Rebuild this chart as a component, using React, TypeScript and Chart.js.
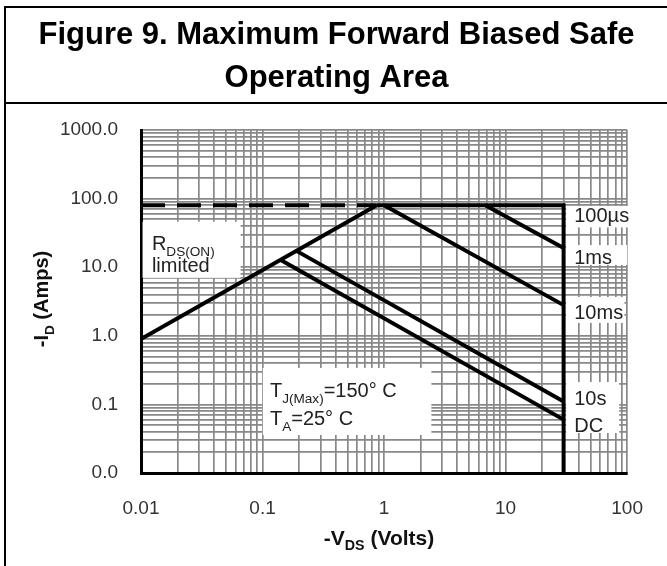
import React, { useEffect, useRef } from "react";
import { Chart, registerables } from "chart.js";

Chart.register(...registerables);

// ---- tick labels ----
const xTickValues = [0.01, 0.1, 1, 10, 100];
const xTickLabels = ["0.01", "0.1", "1", "10", "100"];
const yTickValues = [0.01, 0.1, 1, 10, 100, 1000];
const yTickLabels = ["0.0", "0.1", "1.0", "10.0", "100.0", "1000.0"];

// ---- curves (-VDS volts, -ID amps) ----
const currentLimitV = [0.01, 0.87];
const currentLimitI = [80, 80];
const rdsLimitV = [0.01, 0.87];
const rdsLimitI = [0.9, 80];
const pulse100usV = [0.87, 30, 30];
const pulse100usI = [80, 80, 0.01];
const pulse1msV = [6.8, 30];
const pulse1msI = [80, 19];
const pulse10msV = [1.0, 30];
const pulse10msI = [80, 2.8];
const pulse10sV = [0.19, 30];
const pulse10sI = [17.3, 0.11];
const dcV = [0.14, 30];
const dcI = [12.8, 0.06];

const curveLabels = ["100µs", "1ms", "10ms", "10s", "DC"];

const TITLE = ["Figure 9. Maximum Forward Biased Safe", "Operating Area"];
const FONT = '"Liberation Sans", Arial, Helvetica, sans-serif';

const pts = (xs: number[], ys: number[]) => xs.map((v, i) => ({ x: v, y: ys[i] }));

// annotation anchors in data coordinates
const curveLabelAnchors = [
  { x: 36.7, y: 57.7 },
  { x: 36.7, y: 14.1 },
  { x: 36.7, y: 2.22 },
  { x: 36.7, y: 0.124 },
  { x: 36.7, y: 0.05 },
];
const whiteBoxes = [
  { x0: 0.0103, x1: 0.066, y0: 46, y1: 7.0 }, // RDS(ON) limited
  { x0: 0.1005, x1: 2.45, y0: 0.34, y1: 0.0358 }, // TJ / TA
  { x0: 31.5, x1: 105, y0: 78, y1: 38 },
  { x0: 31.5, x1: 100, y0: 21, y1: 10.8 },
  { x0: 31.5, x1: 95, y0: 3.68, y1: 1.54 },
  { x0: 31.5, x1: 86, y0: 0.212, y1: 0.0916 },
  { x0: 31.5, x1: 86, y0: 0.0916, y1: 0.0383 },
];

type Part = [string, boolean];

function drawRich(
  ctx: CanvasRenderingContext2D,
  parts: Part[],
  x: number,
  baseline: number,
  size: number,
  weight: string,
  align: "left" | "center" = "left"
) {
  const subSize = size * 0.68;
  let total = 0;
  for (const [t, sub] of parts) {
    ctx.font = `${weight} ${sub ? subSize : size}px ${FONT}`;
    total += ctx.measureText(t).width;
  }
  let cx = align === "center" ? x - total / 2 : x;
  ctx.textAlign = "left";
  ctx.textBaseline = "alphabetic";
  for (const [t, sub] of parts) {
    ctx.font = `${weight} ${sub ? subSize : size}px ${FONT}`;
    ctx.fillText(t, cx, sub ? baseline + size * 0.28 : baseline);
    cx += ctx.measureText(t).width;
  }
}

const soaPlugin = {
  id: "soaText",
  beforeDatasetsDraw(chart: any) {
    const { ctx } = chart;
    const xs = chart.scales.x;
    const ys = chart.scales.y;
    const px = (v: number) => xs.getPixelForValue(v);
    const py = (v: number) => ys.getPixelForValue(v);
    ctx.save();
    ctx.fillStyle = "#ffffff";
    for (const b of whiteBoxes) {
      const x0 = px(b.x0), x1 = px(b.x1), y0 = py(b.y0), y1 = py(b.y1);
      ctx.fillRect(x0, y0, x1 - x0, y1 - y0);
    }
    ctx.fillStyle = "#222222";
    const size = 20;
    const cap = size * 0.36;
    // RDS(ON) limited
    drawRich(ctx, [["R", false], ["DS(ON)", true]], px(0.0123), py(22.5) + cap, size, "normal");
    drawRich(ctx, [["limited", false]], px(0.0123), py(10.8) + cap, size, "normal");
    // Temperatures
    drawRich(ctx, [["T", false], ["J(Max)", true], ["=150° C", false]], px(0.115), py(0.162) + cap, size, "normal");
    drawRich(ctx, [["T", false], ["A", true], ["=25° C", false]], px(0.115), py(0.063) + cap, size, "normal");
    // curve labels
    curveLabels.forEach((lab, i) => {
      const a = curveLabelAnchors[i];
      drawRich(ctx, [[lab, false]], px(a.x), py(a.y) + cap, size, "normal");
    });
    ctx.restore();
  },
  afterDraw(chart: any) {
    const { ctx } = chart;
    ctx.save();
    ctx.strokeStyle = "#000";
    ctx.lineWidth = 2;
    ctx.beginPath();
    ctx.moveTo(5, 566);
    ctx.lineTo(5, 7);
    ctx.lineTo(667, 7);
    ctx.moveTo(5, 103);
    ctx.lineTo(667, 103);
    ctx.stroke();
    ctx.fillStyle = "#111";
    // x axis title
    drawRich(ctx, [["-V", false], ["DS", true], [" (Volts)", false]], 379, 537 + 21 * 0.36, 21, "bold", "center");
    // y axis title
    ctx.translate(41, 299);
    ctx.rotate(-Math.PI / 2);
    drawRich(ctx, [["-I", false], ["D", true], [" (Amps)", false]], 0, 20 * 0.36, 20, "bold", "center");
    ctx.restore();
  },
};

function logTicks(min: number, max: number) {
  const out: { value: number }[] = [];
  for (let e = Math.round(Math.log10(min)); e < Math.round(Math.log10(max)); e++) {
    for (let m = 1; m <= 9; m++) out.push({ value: m * Math.pow(10, e) });
  }
  out.push({ value: max });
  return out;
}

function labelFor(v: number, values: number[], labels: string[]) {
  for (let i = 0; i < values.length; i++) {
    if (Math.abs(Math.log10(v) - Math.log10(values[i])) < 1e-6) return labels[i];
  }
  return "";
}

export default function App() {
  const ref = useRef<HTMLCanvasElement | null>(null);
  useEffect(() => {
    if (!ref.current) return;
    const line = (data: { x: number; y: number }[], dash: number[] = []) => ({
      data,
      borderColor: "#000",
      borderWidth: 4,
      borderDash: dash,
      pointRadius: 0,
      fill: false,
      tension: 0,
      borderJoinStyle: "miter" as const,
      borderCapStyle: "butt" as const,
    });
    const chart = new Chart(ref.current, {
      type: "line",
      data: {
        datasets: [
          line(pts(currentLimitV, currentLimitI), [24, 12]),
          line(pts(rdsLimitV, rdsLimitI)),
          line(pts(pulse100usV, pulse100usI)),
          line(pts(pulse1msV, pulse1msI)),
          line(pts(pulse10msV, pulse10msI)),
          line(pts(pulse10sV, pulse10sI)),
          line(pts(dcV, dcI)),
        ] as any,
      },
      options: {
        animation: false,
        responsive: false,
        layout: { padding: { left: 6, right: 0, top: 0, bottom: 0 } },
        plugins: {
          legend: { display: false },
          tooltip: { enabled: false },
          title: {
            display: true,
            text: TITLE,
            color: "#000",
            font: { family: FONT, size: 31, weight: "bold", lineHeight: "43px" } as any,
            padding: { top: 14, bottom: 30 },
          },
        },
        scales: {
          x: {
            type: "logarithmic",
            min: xTickValues[0],
            max: xTickValues[xTickValues.length - 1],
            afterBuildTicks: (s: any) => {
              s.ticks = logTicks(s.min, s.max);
            },
            afterFit: (s: any) => {
              s.height = 93;
            },
            grid: { color: "#888888", lineWidth: 1.7, drawTicks: false },
            border: { display: true, color: "#000", width: 3 },
            ticks: {
              autoSkip: false,
              maxRotation: 0,
              padding: 24,
              color: "#333",
              font: { family: FONT, size: 19 },
              callback: (v: any) => labelFor(Number(v), xTickValues, xTickLabels),
            },
          },
          y: {
            type: "logarithmic",
            min: yTickValues[0],
            max: yTickValues[yTickValues.length - 1],
            afterBuildTicks: (s: any) => {
              s.ticks = logTicks(s.min, s.max);
            },
            afterFit: (s: any) => {
              s.width = 135;
            },
            grid: { color: "#888888", lineWidth: 1.7, drawTicks: false },
            border: { display: true, color: "#000", width: 3 },
            ticks: {
              autoSkip: false,
              padding: 23,
              color: "#333",
              font: { family: FONT, size: 19 },
              callback: (v: any) => labelFor(Number(v), yTickValues, yTickLabels),
            },
          },
          spacer: {
            type: "linear",
            position: "right",
            display: true,
            grid: { display: false, drawTicks: false },
            border: { display: false },
            ticks: { display: false },
            afterFit: (s: any) => {
              s.width = 39;
            },
          },
        },
      },
      plugins: [soaPlugin],
    });
    return () => chart.destroy();
  }, []);
  return (
    <div style={{ position: "absolute", left: 0, top: 0, width: 667, height: 566, background: "#fff" }}>
      <canvas ref={ref} width={667} height={566} style={{ display: "block" }} />
    </div>
  );
}
